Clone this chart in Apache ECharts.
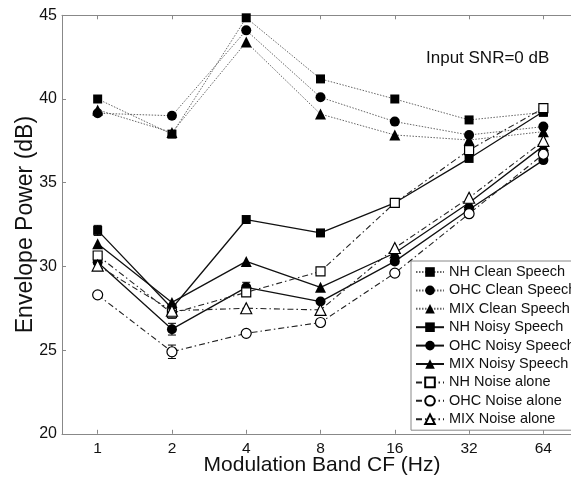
<!DOCTYPE html>
<html><head><meta charset="utf-8">
<script src="https://cdn.jsdelivr.net/npm/echarts@6/dist/echarts.min.js"></script>
<style>html,body{margin:0;padding:0;background:#fff}#c{width:571px;height:477px}</style>
</head><body><div id="c"></div>
<script>
// ---- data ----
const cf = [1, 2, 4, 8, 16, 32, 64];
const yTicks = [20, 25, 30, 35, 40, 45];
const nhClean  = [40.0, 37.9, 44.85, 41.2, 40.0, 38.75, 39.2];
const ohcClean = [39.15, 39.0, 44.1, 40.1, 38.65, 37.85, 38.35];
const mixClean = [39.35, 38.0, 43.4, 39.1, 37.85, 37.55, 38.05];
const nhNoisy  = [32.15, 27.5, 32.8, 32.0, 33.8, 36.45, 39.25];
const ohcNoisy = [30.25, 26.25, 28.75, 27.9, 30.3, 33.4, 36.35];
const mixNoisy = [31.35, 27.85, 30.3, 28.75, 30.8, 33.8, 37.2];
const nhNoise  = [30.65, 27.2, 28.45, 29.7, 33.8, 36.95, 39.45];
const ohcNoise = [28.3, 24.9, 26.0, 26.65, 29.6, 33.15, 36.7];
const mixNoise = [30.05, 27.35, 27.5, 27.4, 31.1, 34.1, 37.5];
const nhNoisyErr  = [0.3, 0, 0, 0, 0, 0, 0];
const ohcNoisyErr = [0, 0.35, 0.3, 0, 0, 0, 0];
const nhNoiseErr  = [0, 0.3, 0, 0, 0, 0, 0];
const ohcNoiseErr = [0, 0.4, 0, 0, 0, 0, 0];
const names = ['NH Clean Speech', 'OHC Clean Speech', 'MIX Clean Speech',
  'NH Noisy Speech', 'OHC Noisy Speech', 'MIX Noisy Speech',
  'NH Noise alone', 'OHC Noise alone', 'MIX Noise alone'];
const annotation = 'Input SNR=0 dB';
const xTitle = 'Modulation Band CF (Hz)';
const yTitle = 'Envelope Power (dB)';

// ---- chart ----
const FONT = '"Liberation Sans", Arial, sans-serif';
const xs = cf.map(v => Math.log2(v));
const pts = arr => arr.map((v, i) => [xs[i], v]);

const DOT = {color: '#666', width: 1, type: [1.5, 1.5]};
const SOLID = {color: '#111', width: 1.3, type: 'solid'};
const DASHDOT = {color: '#222', width: 1.1, type: [6, 3, 1.5, 3]};

const specs = [
  [nhClean, 'rect', true, DOT], [ohcClean, 'circle', true, DOT], [mixClean, 'triangle', true, DOT],
  [nhNoisy, 'rect', true, SOLID], [ohcNoisy, 'circle', true, SOLID], [mixNoisy, 'triangle', true, SOLID],
  [nhNoise, 'rect', false, DASHDOT], [ohcNoise, 'circle', false, DASHDOT], [mixNoise, 'triangle', false, DASHDOT]
];
const symSize = {rect: 9, circle: 10, triangle: 11};

const series = specs.map((s, i) => ({
  name: names[i], type: 'line', data: pts(s[0]),
  symbol: s[1], symbolSize: symSize[s[1]], showSymbol: true,
  lineStyle: s[3],
  itemStyle: s[2] ? {color: '#000', borderColor: '#000', borderWidth: 0}
                   : {color: '#fff', borderColor: '#000', borderWidth: 1.2},
  z: 2 + i, animation: false
}));

function errData(vals, errs) {
  const out = [];
  vals.forEach((v, i) => { if (errs[i] > 0) out.push([xs[i], v, errs[i]]); });
  return out;
}
const errs = [].concat(errData(nhNoisy, nhNoisyErr), errData(ohcNoisy, ohcNoisyErr),
  errData(nhNoise, nhNoiseErr), errData(ohcNoise, ohcNoiseErr));
series.push({
  type: 'custom', name: 'err', data: errs, z: 1, animation: false,
  renderItem: (params, api) => {
    const x = api.value(0), y = api.value(1), e = api.value(2);
    const a = api.coord([x, y + e]), b = api.coord([x, y - e]);
    const w = 4, st = {stroke: '#000', lineWidth: 1};
    return {type: 'group', children: [
      {type: 'line', shape: {x1: a[0], y1: a[1], x2: b[0], y2: b[1]}, style: st},
      {type: 'line', shape: {x1: a[0] - w, y1: a[1], x2: a[0] + w, y2: a[1]}, style: st},
      {type: 'line', shape: {x1: b[0] - w, y1: b[1], x2: b[0] + w, y2: b[1]}, style: st}
    ]};
  }
});

const axisCol = '#888';
const option = {
  backgroundColor: '#fff',
  animation: false,
  textStyle: {fontFamily: FONT},
  grid: {left: 62, top: 15.3, right: -11, bottom: 43.2, show: false, containLabel: false, outerBoundsMode: 'none'},
  xAxis: [{
    type: 'value', min: -0.48, max: 6.52, position: 'bottom',
    axisLine: {show: true, onZero: false, lineStyle: {color: axisCol, width: 1}},
    axisTick: {show: true, inside: true, length: 4, customValues: xs, lineStyle: {color: axisCol}},
    axisLabel: {customValues: xs, formatter: v => String(cf[xs.indexOf(v)] ?? Math.round(Math.pow(2, v))),
      fontSize: 15.5, color: '#111', fontFamily: FONT, margin: 7},
    splitLine: {show: false},
    name: xTitle, nameLocation: 'middle', nameGap: 21, nameMoveOverlap: false,
    nameTextStyle: {fontSize: 21, color: '#111', fontFamily: FONT}
  }, {
    type: 'value', min: -0.48, max: 6.52, position: 'top',
    axisLine: {show: true, onZero: false, lineStyle: {color: axisCol, width: 1}},
    axisTick: {show: true, inside: true, length: 4, customValues: xs, lineStyle: {color: axisCol}},
    axisLabel: {show: false}, splitLine: {show: false}
  }],
  yAxis: {
    type: 'value', min: yTicks[0], max: yTicks[yTicks.length - 1], interval: 5,
    axisLine: {show: true, onZero: false, lineStyle: {color: axisCol, width: 1}},
    axisTick: {show: true, inside: true, length: 4, lineStyle: {color: axisCol}},
    axisLabel: {fontSize: 16, color: '#111', fontFamily: FONT, margin: 5},
    splitLine: {show: false},
    name: yTitle, nameLocation: 'middle', nameGap: 25, nameRotate: 90, nameMoveOverlap: false,
    nameTextStyle: {fontSize: 23, color: '#111', fontFamily: FONT}
  },
  legend: {
    orient: 'vertical', left: 411, top: 261, padding: [3, 4, 3, 4],
    itemWidth: 28, itemHeight: 12, itemGap: 2.4,
    backgroundColor: '#fff', borderColor: '#888', borderWidth: 1, borderRadius: 0,
    textStyle: {fontFamily: FONT, fontSize: 14.5, color: '#111', lineHeight: 16},
    data: names, selectedMode: false
  },
  graphic: [{
    type: 'text', left: 426, top: 50,
    style: {text: annotation, font: '17px ' + FONT, fill: '#111'}
  }],
  series: series
};
const chart = echarts.init(document.getElementById('c'), null, {renderer: 'canvas'});
chart.setOption(option);
</script></body></html>
